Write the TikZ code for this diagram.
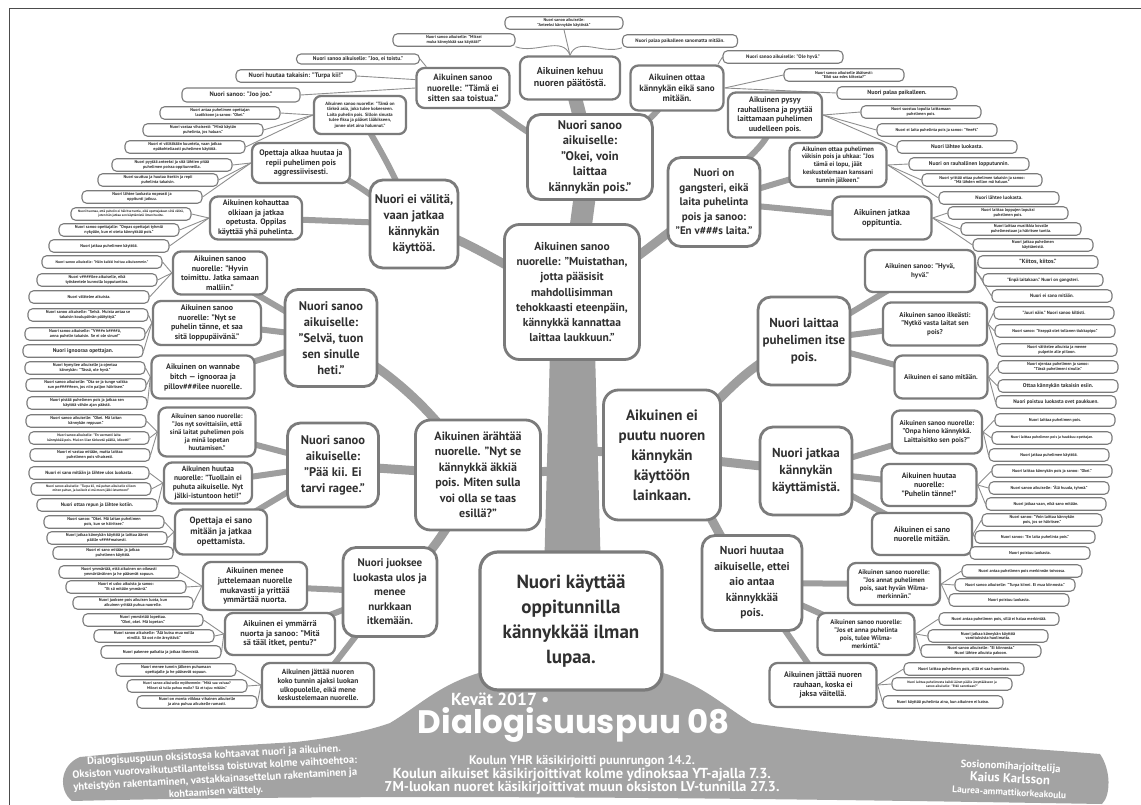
\documentclass[tikz,border=0pt]{standalone}
\usepackage{fontspec}
\usepackage{graphicx}
\setmainfont{PT Sans}
\newfontfamily\titlefont{Poppins}
\usetikzlibrary{backgrounds}
\newcommand{\myfz}[2]{\fontsize{#1}{#2}\selectfont}
\newcommand{\wl}[2]{\resizebox{#1pt}{!}{#2}}
\definecolor{bd}{HTML}{7B7B7B}
\definecolor{brc}{HTML}{9E9E9E}
\definecolor{twc}{HTML}{8E8E8E}
\definecolor{tx}{HTML}{303030}
\definecolor{grd}{HTML}{A3A3A3}
\tikzset{
 nbox/.style={draw=bd, fill=white, align=center, text=tx},
 lf/.style={nbox, line width=1.1pt, rounded corners=4.5pt, minimum width=120pt, minimum height=12.5pt, inner sep=0.6pt, font={\bfseries\myfz{4.2}{4.9}}},
 lfz/.style 2 args={font={\bfseries\myfz{#1}{#2}}},
 mn/.style n args={4}{nbox, line width=2.3pt, rounded corners=8pt, inner sep=2pt, minimum width=#1pt, minimum height=#2pt, font={\bfseries\myfz{#3}{#4}}},
 bn/.style n args={4}{nbox, line width=2.8pt, rounded corners=13pt, inner sep=2pt, minimum width=#1pt, minimum height=#2pt, font={\bfseries\myfz{#3}{#4}}},
 br/.style={draw=brc, line width=9pt, line cap=round},
 brt/.style={draw=brc, line width=6pt, line cap=round},
 tw/.style={draw=twc, line width=0.9pt},
 wt/.style={text=white, align=center, inner sep=0pt},
}
\begin{document}
\begin{tikzpicture}[x=1pt,y=-1pt]
\useasboundingbox (0,0) rectangle (1141,805);
\draw[line width=0.8pt, draw=black!70] (9,805) -- (9,8) -- (1141,8);

% ---------- level 0 / 1 ----------
\node[bn={182}{138}{19}{25}, line width=3.2pt, rounded corners=18pt] (root) at (571,621) {Nuori käyttää\\oppitunnilla\\kännykkää ilman\\lupaa.};
\node[bn={135}{135}{11.5}{15.3}, rounded corners=15pt] (muist) at (572,292) {Aikuinen sanoo\\nuorelle: "Muistathan,\\jotta pääsisit\\mahdollisimman\\tehokkaasti eteenpäin,\\kännykkä kannattaa\\laittaa laukkuun."};
\node[bn={125}{110}{12}{15.5}, rounded corners=15pt] (ar) at (478,475) {Aikuinen ärähtää\\nuorelle. "Nyt se\\kännykkä äkkiä\\pois. Miten sulla\\voi olla se taas\\esillä?"};
\node[bn={117}{130}{15}{20}, rounded corners=15pt] (eiputu) at (662,455) {Aikuinen ei\\puutu nuoren\\kännykän\\käyttöön\\lainkaan.};

% ---------- level 2 ----------
\node[bn={125}{85}{12.5}{15.5}] (okei) at (590,157) {Nuori sanoo\\aikuiselle:\\"Okei, voin\\laittaa\\kännykän pois."};
\node[bn={88}{88}{12.5}{16}] (eivalita) at (414,224) {Nuori ei välitä,\\vaan jatkaa\\kännykän\\käyttöä.};
\node[bn={92}{89}{11}{14.5}] (gang) at (714,202) {Nuori on\\gangsteri, eikä\\laita puhelinta\\pois ja sanoo:\\"En v\#\#\#s laita."};
\node[bn={92}{97}{12.5}{16}] (selva) at (331,338) {Nuori sanoo\\aikuiselle:\\"Selvä, tuon\\sen sinulle\\heti."};
\node[bn={91}{84}{12.5}{16}] (paakii) at (333,465) {Nuori sanoo\\aikuiselle:\\"Pää kii. Ei\\tarvi ragee."};
\node[bn={94}{89}{11}{14.5}] (juoksee) at (390,592) {Nuori juoksee\\luokasta ulos ja\\menee\\nurkkaan\\itkemään.};
\node[bn={92}{88}{13}{17}] (laittaa) at (804,341) {Nuori laittaa\\puhelimen itse\\pois.};
\node[bn={92}{88}{13}{17}] (jatkaa) at (806,471) {Nuori jatkaa\\kännykän\\käyttämistä.};
\node[bn={100}{95}{11.5}{15.5}] (huutaa) at (752,583) {Nuori huutaa\\aikuiselle, ettei\\aio antaa\\kännykkää\\pois.};

% ---------- level 3 ----------
\node[mn={93}{40}{9}{10.5}] (tamaei) at (463,88) {Aikuinen sanoo\\nuorelle: "Tämä ei\\sitten saa toistua."};
\node[mn={100}{43}{10}{12}] (kehuu) at (570,78) {Aikuinen kehuu\\nuoren päätöstä.};
\node[mn={93}{45}{9}{10.5}] (ottaa) at (677,88) {Aikuinen ottaa\\kännykän eikä sano\\mitään.};
\node[mn={92}{38}{4.6}{5.5}, rounded corners=7pt] (tarkea) at (360,115) {Aikuinen sanoo nuorelle: "Tämä on\\tärkeä asia, joka tulee kokeeseen.\\Laita puhelin pois. Silloin sinusta\\tulee fiksu ja pääset lääkikseen,\\jonne olet aina halunnut."};
\node[mn={98}{40}{8}{9.5}] (opalkaa) at (301,163) {Opettaja alkaa huutaa ja\\repii puhelimen pois\\aggressiivisesti.};
\node[mn={92}{43}{8}{9.5}] (kohaut) at (256,218) {Aikuinen kohauttaa\\olkiaan ja jatkaa\\opetusta. Oppilas\\käyttää yhä puhelinta.};
\node[mn={94}{43}{8}{9.5}] (hyvin) at (220,273) {Aikuinen sanoo\\nuorelle: "Hyvin\\toimittu. Jatka samaan\\malliin."};
\node[mn={108}{44}{8}{9.5}] (nytse) at (207,323) {Aikuinen sanoo\\nuorelle: "Nyt se\\puhelin tänne, et saa\\sitä loppupäivänä."};
\node[mn={103}{43}{8}{10}] (wannabe) at (203,377) {Aikuinen on wannabe\\bitch — ignooraa ja\\pillov\#\#\#ilee nuorelle.};
\node[mn={97}{49}{6.7}{8}] (sovit) at (207,432) {Aikuinen sanoo nuorelle:\\"Jos nyt sovittaisiin, että\\sinä laitat puhelimen pois\\ja minä lopetan\\huutamisen."};
\node[mn={88}{41}{7.5}{8.8}] (tuollain) at (208,483) {Aikuinen huutaa\\nuorelle: "Tuollain ei\\puhuta aikuiselle. Nyt\\jälki-istuntoon heti!"};
\node[mn={92}{45}{9}{10.5}] (opeisano) at (221,532) {Opettaja ei sano\\mitään ja jatkaa\\opettamista.};
\node[mn={104}{48}{8.3}{9.8}] (menee) at (255,586) {Aikuinen menee\\juttelemaan nuorelle\\mukavasti ja yrittää\\ymmärtää nuorta.};
\node[mn={110}{42}{8.3}{9.8}] (eiymm) at (280,634) {Aikuinen ei ymmärrä\\nuorta ja sanoo: "Mitä\\sä tääl itket, pentu?"};
\node[mn={112}{44}{7.4}{8.8}] (jattaa) at (318,685) {Aikuinen jättää nuoren\\koko tunnin ajaksi luokan\\ulkopuolelle, eikä mene\\keskustelemaan nuorelle.};
\node[mn={94}{45}{8}{9.5}] (pysyy) at (775,115) {Aikuinen pysyy\\rauhallisena ja pyytää\\laittamaan puhelimen\\uudelleen pois.};
\node[mn={97}{44}{6.5}{7.8}] (vakisin) at (838,165) {Aikuinen ottaa puhelimen\\väkisin pois ja uhkaa: "Jos\\tämä ei lopu, jäät\\keskustelemaan kanssani\\tunnin jälkeen."};
\node[mn={99}{43}{8.5}{10}] (jatkaopp) at (882,218) {Aikuinen jatkaa\\oppituntia.};
\node[mn={110}{42}{7}{8.5}] (hyva) at (920,271) {Aikuinen sanoo: "Hyvä,\\hyvä."};
\node[mn={104}{43}{7}{8.5}] (ilkea) at (935,324) {Aikuinen sanoo ilkeästi:\\"Nytkö vasta laitat sen\\pois?};
\node[mn={93}{43}{7}{8.5}] (eisano) at (941,377) {Aikuinen ei sano mitään.};
\node[mn={90}{43}{7}{8.5}] (onpa) at (937,432) {Aikuinen sanoo nuorelle:\\"Onpa hieno kännykkä.\\Laittaisitko sen pois?"};
\node[mn={95}{42}{7.8}{9}] (ptanne) at (929,485) {Aikuinen huutaa\\nuorelle:\\"Puhelin tänne!"};
\node[mn={100}{42}{8}{9.5}] (eisanon) at (922,534) {Aikuinen ei sano\\nuorelle mitään.};
\node[mn={92}{42}{6.7}{8}] (josannat) at (894,584) {Aikuinen sanoo nuorelle:\\"Jos annat puhelimen\\pois, saat hyvän Wilma-\\merkinnän."};
\node[mn={97}{42}{6.7}{8}] (joset) at (866,634) {Aikuinen sanoo nuorelle:\\"Jos et anna puhelinta\\pois, tulee Wilma-\\merkintä."};
\node[mn={107}{44}{8}{9.5}] (rauhaan) at (823,685) {Aikuinen jättää nuoren\\rauhaan, koska ei\\jaksa väitellä.};

% ---------- leaves: top ----------
\node[lf, minimum width=122pt] (K1) at (454,40) {Nuori sanoo aikuiselle: "Miksei\\muka kännykkää saa käyttää?"};
\node[lf, minimum width=118pt] (K2) at (564,23) {Nuori sanoo aikuiselle:\\"Anteeksi kännykän käytöstä."};
\node[lf, lfz={5}{6}, minimum width=115pt] (K3) at (680,41) {Nuori palaa paikalleen sanomatta mitään.};
\node[lf, lfz={5.5}{6.5}, minimum width=123pt, minimum height=10pt] (T1) at (358,59) {Nuori sanoo aikuiselle: "Joo, ei toistu."};
\node[lf, lfz={6.5}{7.5}] (T2) at (296,76) {Nuori huutaa takaisin: "Turpa kii!"};
\node[lf, lfz={6.5}{7.5}, minimum width=118pt, minimum height=14pt] (T3) at (241,95) {Nuori sanoo: "Joo joo."};
\node[lf, lfz={5}{6}] (O1) at (783,57) {Nuori sanoo aikuiselle: "Ole hyvä."};
\node[lf] (O2) at (844,75) {Nuori sanoo aikuiselle äkäisesti:\\"Eikö saa edes kiitosta?"};
\node[lf, lfz={6}{7}] (O3) at (897,93) {Nuori palaa paikalleen.};

% ---------- leaves: left ----------
\node[lf] (A1) at (220,113) {Nuori antaa puhelimen opettajan\\laatikkoon ja sanoo: "Okei."};
\node[lf] (A2) at (203,130) {Nuori vastaa vihaisesti: "Minä käytän\\puhelinta, jos haluan."};
\node[lf] (A3) at (185,147) {Nuori ei välitäkään kuuntelu, vaan jatkaa\\epäkohteliaasti puhelimen käyttöä.};
\node[lf] (B1) at (172,165) {Nuori pyytää anteeksi ja sitä lähtien pitää\\puhelimen poissa oppitunneilla.};
\node[lf] (B2) at (158,180) {Nuori suuttuu ja huutaa itsekin ja repii\\puhelinta takaisin.};
\node[lf] (B3) at (142,197) {Nuori lähtee luokasta nopeasti ja\\oppitunti jatkuu.};
\node[lf, lfz={3.3}{4}] (C1) at (131,214) {Nuori huomaa, että puhelin ei häiritse tuntia, eikä opettajakaan siitä välitä,\\joten hän jatkaa sen käyttämistä ilman huolta.};
\node[lf] (C2) at (119,230) {Nuori sanoo opettajalle: "Onpas opettajat tyhmiä\\nykyään, kun ei oteta kännykkää pois."};
\node[lf] (C3) at (109,246) {Nuori jatkaa puhelimen käyttöä.};
\node[lf, lfz={3.8}{4.5}] (D1) at (102,262) {Nuori sanoo aikuiselle: "Näin kaikki hoituu aikuisemmin."};
\node[lf] (D2) at (97,280) {Nuori v\#\#\#\#ilee aikuiselle, eikä\\työskentele kunnolla lopputuntina.};
\node[lf] (D3) at (89,297) {Nuori välttelee aikuista.};
\node[lf] (E1) at (88,315) {Nuori sanoo aikuiselle: "Selvä. Muista antaa se\\takaisin koulupäivän päätyttyä."};
\node[lf] (E2) at (85,334) {Nuori sanoo aikuiselle: "V\#\#\#n k\#\#\#\#ä,\\anna puhelin takaisin. Se ei ole sinun!"};
\node[lf, lfz={5.5}{6.5}] (E3) at (83,351) {Nuori ignooraa opettajan.};
\node[lf] (F1) at (85,368) {Nuori hymyilee aikuiselle ja ojentaa\\kännykän: "Tässä, ole hyvä."};
\node[lf] (F2) at (86,385) {Nuori sanoo aikuiselle: "Ota se ja tunge vaikka\\sun pe\#\#\#\#\#een, jos niin paljon häiritsee."};
\node[lf] (F3) at (87,403) {Nuori pistää puhelimen pois ja jatkaa sen\\käyttöä vähän ajan päästä.};
\node[lf] (G1) at (86,421) {Nuori sanoo aikuiselle: "Okei. Mä laitan\\kännykän reppuun."};
\node[lf, lfz={3.6}{4.4}] (G2) at (89,438) {Nuori sanoo aikuiselle: "En varmasti laita\\kännykkää pois. Mul on liian tärkeetä päällä, idiootti!"};
\node[lf] (G3) at (90,455) {Nuori ei vastaa mitään, mutta laittaa\\puhelimen pois vihaisesti.};
\node[lf, lfz={4.6}{5.4}] (H1) at (89,473) {Nuori ei sano mitään ja lähtee ulos luokasta.};
\node[lf, lfz={3.4}{4.1}] (H2) at (91,489) {Nuori sanoo aikuiselle: "Turpa kii, mä puhun aikuiselle silleen\\miten puhun, ja lusikoit ei mä meen jälki-istuntoon!"};
\node[lf, lfz={5}{6}] (H3) at (97,505) {Nuori ottaa repun ja lähtee kotiin.};
\node[lf] (I1) at (104,522) {Nuori sanoo: "Okei. Mä laitan puhelimen\\pois, kun se häiritsee."};
\node[lf] (I2) at (107,538) {Nuori jatkaa kännykän käyttöä ja laittaa äänet\\päälle v\#\#\#\#maisesti.};
\node[lf] (I3) at (113,553) {Nuori ei sano mitään ja jatkaa\\puhelimen käyttöä.};
\node[lf] (J1) at (119,572) {Nuori ymmärtää, että aikuinen on oikeasti\\ymmärtäväinen ja he pääsevät sopuun.};
\node[lf] (J2) at (126,587) {Nuori ei usko aikuista ja sanoo:\\"Et sä mitään ymmärrä."};
\node[lf] (J3) at (133,603) {Nuori juoksee pois aikuisen luota, kun\\aikuinen yrittää puhua nuorelle.};
\node[lf] (M1) at (143,620) {Nuori ymmärtää lopettaa.\\"Okei, okei. Mä lopetan."};
\node[lf] (M2) at (154,636) {Nuori sanoo aikuiselle: "Älä kutsu mua noilla\\nimillä. Sä oot niin ärsyttävä."};
\node[lf] (M3) at (161,652) {Nuori pakenee paikalta ja jatkaa itkemistä.};
\node[lf] (N1) at (176,670) {Nuori menee tunnin jälkeen puhumaan\\opettajalle ja he pääsevät sopuun.};
\node[lf, lfz={3.8}{4.5}] (N2) at (187,686) {Nuori sanoo aikuiselle myöhemmin: "Mitä sua vaivaa?\\Mikset sä tullu puhuu mulle? Sä et tajuu mitään."};
\node[lf] (N3) at (197,702) {Nuori on monta viikkoa vihainen aikuiselle\\ja aina puhuu aikuiselle rumasti.};

% ---------- leaves: right ----------
\node[lf] (P1) at (921,112) {Nuori suostuu lopulta laittamaan\\puhelimen pois.};
\node[lf] (P2) at (937,130) {Nuori ei laita puhelinta pois ja sanoo: "Vee\#t."};
\node[lf, lfz={5.5}{6.5}] (P3) at (957,147) {Nuori lähtee luokasta.};
\node[lf, lfz={5.5}{6.5}] (Q1) at (969,164) {Nuori on rauhallinen lopputunnin.};
\node[lf] (Q2) at (982,180) {Nuori yrittää ottaa puhelimen takaisin ja sanoo:\\"Mä lähden millon mä haluun."};
\node[lf, lfz={5}{6}] (Q3) at (999,198) {Nuori lähtee luokasta.};
\node[lf] (R1) at (1008,213) {Nuori laittaa loppujen lopuksi\\puhelimen pois.};
\node[lf] (R2) at (1021,229) {Nuori laittaa musiikkia kovalle\\puhelimestaan ja häiritsee tuntia.};
\node[lf] (R3) at (1033,245) {Nuori jatkaa puhelimen\\käyttämistä.};
\node[lf, lfz={6}{7}] (S1) at (1038,262) {"Kiitos, kiitos."};
\node[lf, lfz={4.6}{5.4}] (S2) at (1043,280) {"Enpä laitakaan." Nuori on gangsteri.};
\node[lf, lfz={4.8}{5.6}] (S3) at (1052,296) {Nuori ei sano mitään.};
\node[lf, lfz={4.6}{5.4}] (U1) at (1054,313) {"Juuri näin." Nuori sanoo kiltisti.};
\node[lf] (U2) at (1055,331) {Nuori sanoo: "Itseppä olet tollanen tiukkapipo."};
\node[lf] (U3) at (1057,350) {Nuori väittelee aikuista ja menee\\pulpetin alle piiloon.};
\node[lf] (V1) at (1058,367) {Nuori ojentaa puhelimen ja sanoo:\\"Tässä puhelimeni sinulle."};
\node[lf, lfz={5.5}{6.5}] (V2) at (1058,386) {Ottaa kännykän takaisin esiin.};
\node[lf, lfz={5.2}{6.2}] (V3) at (1056,402) {Nuori poistuu luokasta ovet paukkuen.};
\node[lf] (W1) at (1055,420) {Nuori laittaa puhelimen pois.};
\node[lf, lfz={3.8}{4.5}] (W2) at (1052,438) {Nuori laittaa puhelimen pois ja haukkuu opettajan.};
\node[lf] (W3) at (1049,455) {Nuori jatkaa puhelimen käyttöä.};
\node[lf] (X1) at (1052,471) {Nuori laittaa kännykän pois ja sanoo: "Okei."};
\node[lf] (X2) at (1049,488) {Nuori sanoo aikuiselle: "Älä huuda, tyhmä."};
\node[lf] (X3) at (1046,504) {Nuori jatkaa vaan, eikä sano mitään.};
\node[lf] (Y1) at (1042,520) {Nuori sanoo: "Voin laittaa kännykän\\pois, jos se häiritsee."};
\node[lf] (Y2) at (1035,537) {Nuori sanoo: "En laita puhelinta pois."};
\node[lf] (Y3) at (1030,553) {Nuori poistuu luokasta.};
\node[lf] (Z1) at (1022,571) {Nuori antaa puhelimen pois merkinnän toivossa.};
\node[lf] (Z2) at (1015,585) {Nuori sanoo aikuiselle: "Turpa kiinni. Ei mua kiinnosta."};
\node[lf] (Z3) at (1009,600) {Nuori poistuu luokasta.};
\node[lf] (AA1) at (999,619) {Nuori antaa puhelimen pois, sillä ei halua merkintää.};
\node[lf] (AA2) at (988,636) {Nuori jatkaa kännykän käyttöä\\varoituksista huolimatta.};
\node[lf] (AA3) at (981,651) {Nuori sanoo aikuiselle: "Ei kiinnosta."\\Nuori lähtee aikuista pakoon.};
\node[lf] (AB1) at (964,669) {Nuori laittaa puhelimen pois, sillä ei saa huomiota.};
\node[lf, lfz={3.4}{4.1}] (AB2) at (952,684) {Nuori laittaa puhelimesta kaikki äänet päälle ärsyttääkseen ja\\sanoo aikuiselle: "Etkö sanotkaan?"};
\node[lf] (AB3) at (943,702) {Nuori käyttää puhelinta aina, kun aikuinen ei katso.};

% ---------- ground texts ----------
\node[wt, font={\bfseries\myfz{14}{16}}, anchor=west] (kevat) at (451,699) {\wl{98}{Kevät 2017 •}};
\node[wt, font={\titlefont\bfseries\myfz{32}{34}}] (title) at (574,725) {\wl{312}{Dialogisuuspuu 08}};
\node[wt, font={\bfseries\myfz{12}{13.6}}] (credits) at (582,775) {\wl{226}{Koulun YHR käsikirjoitti puunrungon 14.2.}\\\wl{378}{Koulun aikuiset käsikirjoittivat kolme ydinoksaa YT-ajalla 7.3.}\\\wl{395}{7M-luokan nuoret käsikirjoittivat muun oksiston LV-tunnilla 27.3.}};
\node[wt, font={\bfseries\myfz{9}{12.3}}, rotate=3] (intro) at (215,774) {\wl{254}{Dialogisuuspuun oksistossa kohtaavat nuori ja aikuinen.}\\\wl{285}{Oksiston vuorovaikutustilanteissa toistuvat kolme vaihtoehtoa:}\\\wl{284}{yhteistyön rakentaminen, vastakkainasettelun rakentaminen ja}\\\wl{94}{kohtaamisen välttely.}};
\node[wt, font={\bfseries\myfz{9}{13}}, rotate=-3] (author) at (1010,779) {\wl{100}{Sosionomiharjoittelija}\\\wl{80}{Kaius Karlsson}\\\wl{114}{Laurea-ammattikorkeakoulu}};

% ---------- background: ground, trunk, branches, twigs ----------
\begin{scope}[on background layer]
\fill[grd] (80,757) .. controls (150,750) and (230,746) .. (296,742)
  .. controls (330,738) and (365,732) .. (390,723)
  .. controls (420,705) and (440,684) .. (482,672) -- (660,672)
  .. controls (702,684) and (722,705) .. (752,723)
  .. controls (850,738) and (1000,746) .. (1100,754)
  .. controls (1111,770) and (1111,795) .. (1102,804)
  .. controls (800,799) and (400,793) .. (72,801)
  .. controls (58,790) and (60,765) .. (80,757) -- cycle;
\fill[brc] (544,575) -- (550,350) -- (595,350) -- (601,575) -- cycle;
\draw[brc, line width=22pt] (muist.center) -- (okei.center);
\draw[brc, line width=14pt] (okei.center) -- (kehuu.center);
\coordinate (tkl) at (572,470);
\coordinate (tkr) at (572,450);
\draw[br] (ar.center) -- (tkl);
\draw[br] (eiputu.center) -- (tkr);
\draw[br] (muist.center) to[out=165,in=-15] (eivalita.center);
\draw[br] (muist.center) to[out=20,in=210] (gang.center);
\draw[br] (ar.center) to[out=125,in=-30] (selva.center);
\draw[br] (ar.center) -- (paakii.center);
\draw[br] (ar.center) to[out=-120,in=40] (juoksee.center);
\draw[br] (eiputu.center) to[out=40,in=200] (laittaa.center);
\draw[br] (eiputu.center) -- (jatkaa.center);
\draw[br] (eiputu.center) to[out=-40,in=130] (huutaa.center);
\draw[brt] (okei.center) to[out=170,in=-30] (tamaei.center);
\draw[brt] (okei.center) to[out=20,in=230] (ottaa.center);
\draw[brt] (eivalita.center) to[out=110,in=-60] (tarkea.center);
\draw[brt] (eivalita.center) to[out=150,in=-10] (opalkaa.center);
\draw[brt] (eivalita.center) -- (kohaut.center);
\draw[brt] (gang.center) to[out=70,in=-100] (pysyy.center);
\draw[brt] (gang.center) -- (vakisin.center);
\draw[brt] (gang.center) -- (jatkaopp.center);
\foreach \c in {hyvin,nytse,wannabe} \draw[brt] (selva.center) -- (\c.center);
\foreach \c in {sovit,tuollain,opeisano} \draw[brt] (paakii.center) -- (\c.center);
\foreach \c in {menee,eiymm,jattaa} \draw[brt] (juoksee.center) -- (\c.center);
\foreach \c in {hyva,ilkea,eisano} \draw[brt] (laittaa.center) -- (\c.center);
\foreach \c in {onpa,ptanne,eisanon} \draw[brt] (jatkaa.center) -- (\c.center);
\foreach \c in {josannat,joset,rauhaan} \draw[brt] (huutaa.center) -- (\c.center);
% twigs
\draw[tw] (kehuu.north) to[out=110,in=-20] (K1.south east);
\draw[tw] (kehuu.north) -- (K2.south);
\draw[tw] (kehuu.north) to[out=70,in=200] (K3.south west);
\draw[tw] (tamaei.150) -- (T1.east);
\draw[tw] (tamaei.170) -- (T2.east);
\draw[tw] (tamaei.west) -- (T3.east);
\draw[tw] (ottaa.30) -- (O1.west);
\draw[tw] (ottaa.east) -- (O2.west);
\draw[tw] (ottaa.east) -- (O3.west);
\foreach \m/\a/\b/\c in {tarkea/A1/A2/A3, opalkaa/B1/B2/B3, kohaut/C1/C2/C3, hyvin/D1/D2/D3, nytse/E1/E2/E3, wannabe/F1/F2/F3, sovit/G1/G2/G3, tuollain/H1/H2/H3, opeisano/I1/I2/I3, menee/J1/J2/J3, eiymm/M1/M2/M3, jattaa/N1/N2/N3}
  {\draw[tw] (\m.west) -- (\a.east); \draw[tw] (\m.west) -- (\b.east); \draw[tw] (\m.west) -- (\c.east);}
\foreach \m/\a/\b/\c in {pysyy/P1/P2/P3, vakisin/Q1/Q2/Q3, jatkaopp/R1/R2/R3, hyva/S1/S2/S3, ilkea/U1/U2/U3, eisano/V1/V2/V3, onpa/W1/W2/W3, ptanne/X1/X2/X3, eisanon/Y1/Y2/Y3, josannat/Z1/Z2/Z3, joset/AA1/AA2/AA3, rauhaan/AB1/AB2/AB3}
  {\draw[tw] (\m.east) -- (\a.west); \draw[tw] (\m.east) -- (\b.west); \draw[tw] (\m.east) -- (\c.west);}
\end{scope}
\end{tikzpicture}
\end{document}
